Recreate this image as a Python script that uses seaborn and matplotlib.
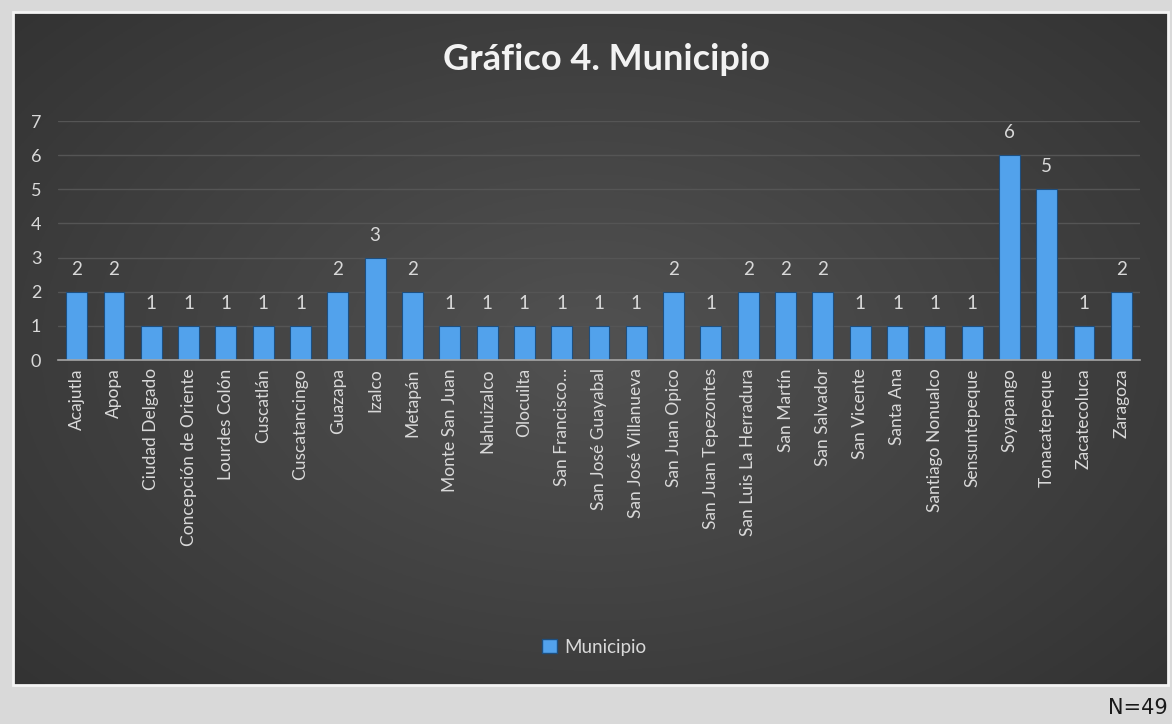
import numpy as np
import pandas as pd
import matplotlib
matplotlib.use("Agg")
import matplotlib.pyplot as plt
from matplotlib.patches import Patch, Rectangle
import seaborn as sns

municipios = [
    "Acajutla", "Apopa", "Ciudad Delgado", "Concepción de Oriente", "Lourdes Colón",
    "Cuscatlán", "Cuscatancingo", "Guazapa", "Izalco", "Metapán", "Monte San Juan",
    "Nahuizalco", "Olocuilta", "San Francisco…", "San José Guayabal",
    "San José Villanueva", "San Juan Opico", "San Juan Tepezontes",
    "San Luis La Herradura", "San Martín", "San Salvador", "San Vicente",
    "Santa Ana", "Santiago Nonualco", "Sensuntepeque", "Soyapango",
    "Tonacatepeque", "Zacatecoluca", "Zaragoza",
]
valores = [2, 2, 1, 1, 1, 1, 1, 2, 3, 2, 1, 1, 1, 1, 1, 1, 2, 1, 2, 2, 2, 1, 1, 1, 1, 6, 5, 1, 2]
y_ticks = [0, 1, 2, 3, 4, 5, 6, 7]
titulo = "Gráfico 4. Municipio"
serie = "Municipio"
nota = "N=49"

df = pd.DataFrame({"municipio": municipios, "valor": valores})

sns.set_theme(style="dark")
plt.rcParams["font.family"] = ["Lato", "DejaVu Sans"]

W, H = 1172, 724
fig = plt.figure(figsize=(W / 100, H / 100), dpi=100)
fig.patch.set_facecolor("#d9d9d9")

# dark chart panel with a soft radial gradient
px0, px1, py0, py1 = 13, 1168, 12, 685
bg = fig.add_axes([px0 / W, 1 - py1 / H, (px1 - px0) / W, (py1 - py0) / H], zorder=0)
gx, gy = np.meshgrid(np.linspace(-1, 1, 400), np.linspace(-1, 1, 240))
r = np.clip(np.sqrt(gx ** 2 + (gy * 0.9) ** 2) / 1.35, 0, 1)
shade = 0.32 - 0.12 * r
bg.imshow(np.dstack([shade, shade, shade]), aspect="auto", extent=[0, 1, 0, 1])
bg.set_xlim(0, 1)
bg.set_ylim(0, 1)
bg.axis("off")
bg.add_patch(Rectangle((0, 0), 1, 1, transform=bg.transAxes, fill=False,
                       edgecolor="#f4f4f4", linewidth=2, clip_on=False))

# bar chart area
ax = fig.add_axes([58 / W, 1 - 360 / H, (1140 - 58) / W, (360 - 121) / H], zorder=1)
ax.patch.set_alpha(0)
sns.barplot(data=df, x="municipio", y="valor", color="#52a2ec", saturation=1,
            width=0.56, edgecolor="#1d4f80", linewidth=0.8, ax=ax)
ax.set_ylim(0, 7)
ax.set_yticks(y_ticks)
ax.set_xlim(-0.5, len(municipios) - 0.5)
ax.set_xlabel("")
ax.set_ylabel("")
ax.grid(axis="y", color="#555555", linewidth=1)
ax.grid(axis="x", visible=False)
ax.set_axisbelow(True)
for s in ["top", "right", "left"]:
    ax.spines[s].set_visible(False)
ax.spines["bottom"].set_color("#a6a6a6")
ax.spines["bottom"].set_linewidth(1.2)
ax.tick_params(axis="y", colors="#d9d9d9", labelsize=13, length=0, pad=12)
ax.tick_params(axis="x", colors="#d9d9d9", labelsize=12.5, length=0, pad=6)
plt.setp(ax.get_xticklabels(), rotation=90)

ax.bar_label(ax.containers[0], labels=[str(v) for v in valores], padding=10,
             color="#d9d9d9", fontsize=13.5)

fig.text(606 / W, 1 - 60 / H, titulo, ha="center", va="center",
         fontsize=26, fontweight="bold", color="#f2f2f2")

fig.legend(handles=[Patch(facecolor="#52a2ec", edgecolor="#1d4f80")], labels=[serie],
           loc="center", bbox_to_anchor=(594 / W, 1 - 647 / H), frameon=False,
           labelcolor="#d9d9d9", fontsize=13.5, handlelength=0.8, handleheight=0.8,
           handletextpad=0.4)

fig.text(1168 / W, 1 - 708 / H, nota, ha="right", va="center", fontsize=15,
         color="#1a1a1a", family="DejaVu Sans")

fig.savefig("out.png", dpi=100, facecolor=fig.get_facecolor())
